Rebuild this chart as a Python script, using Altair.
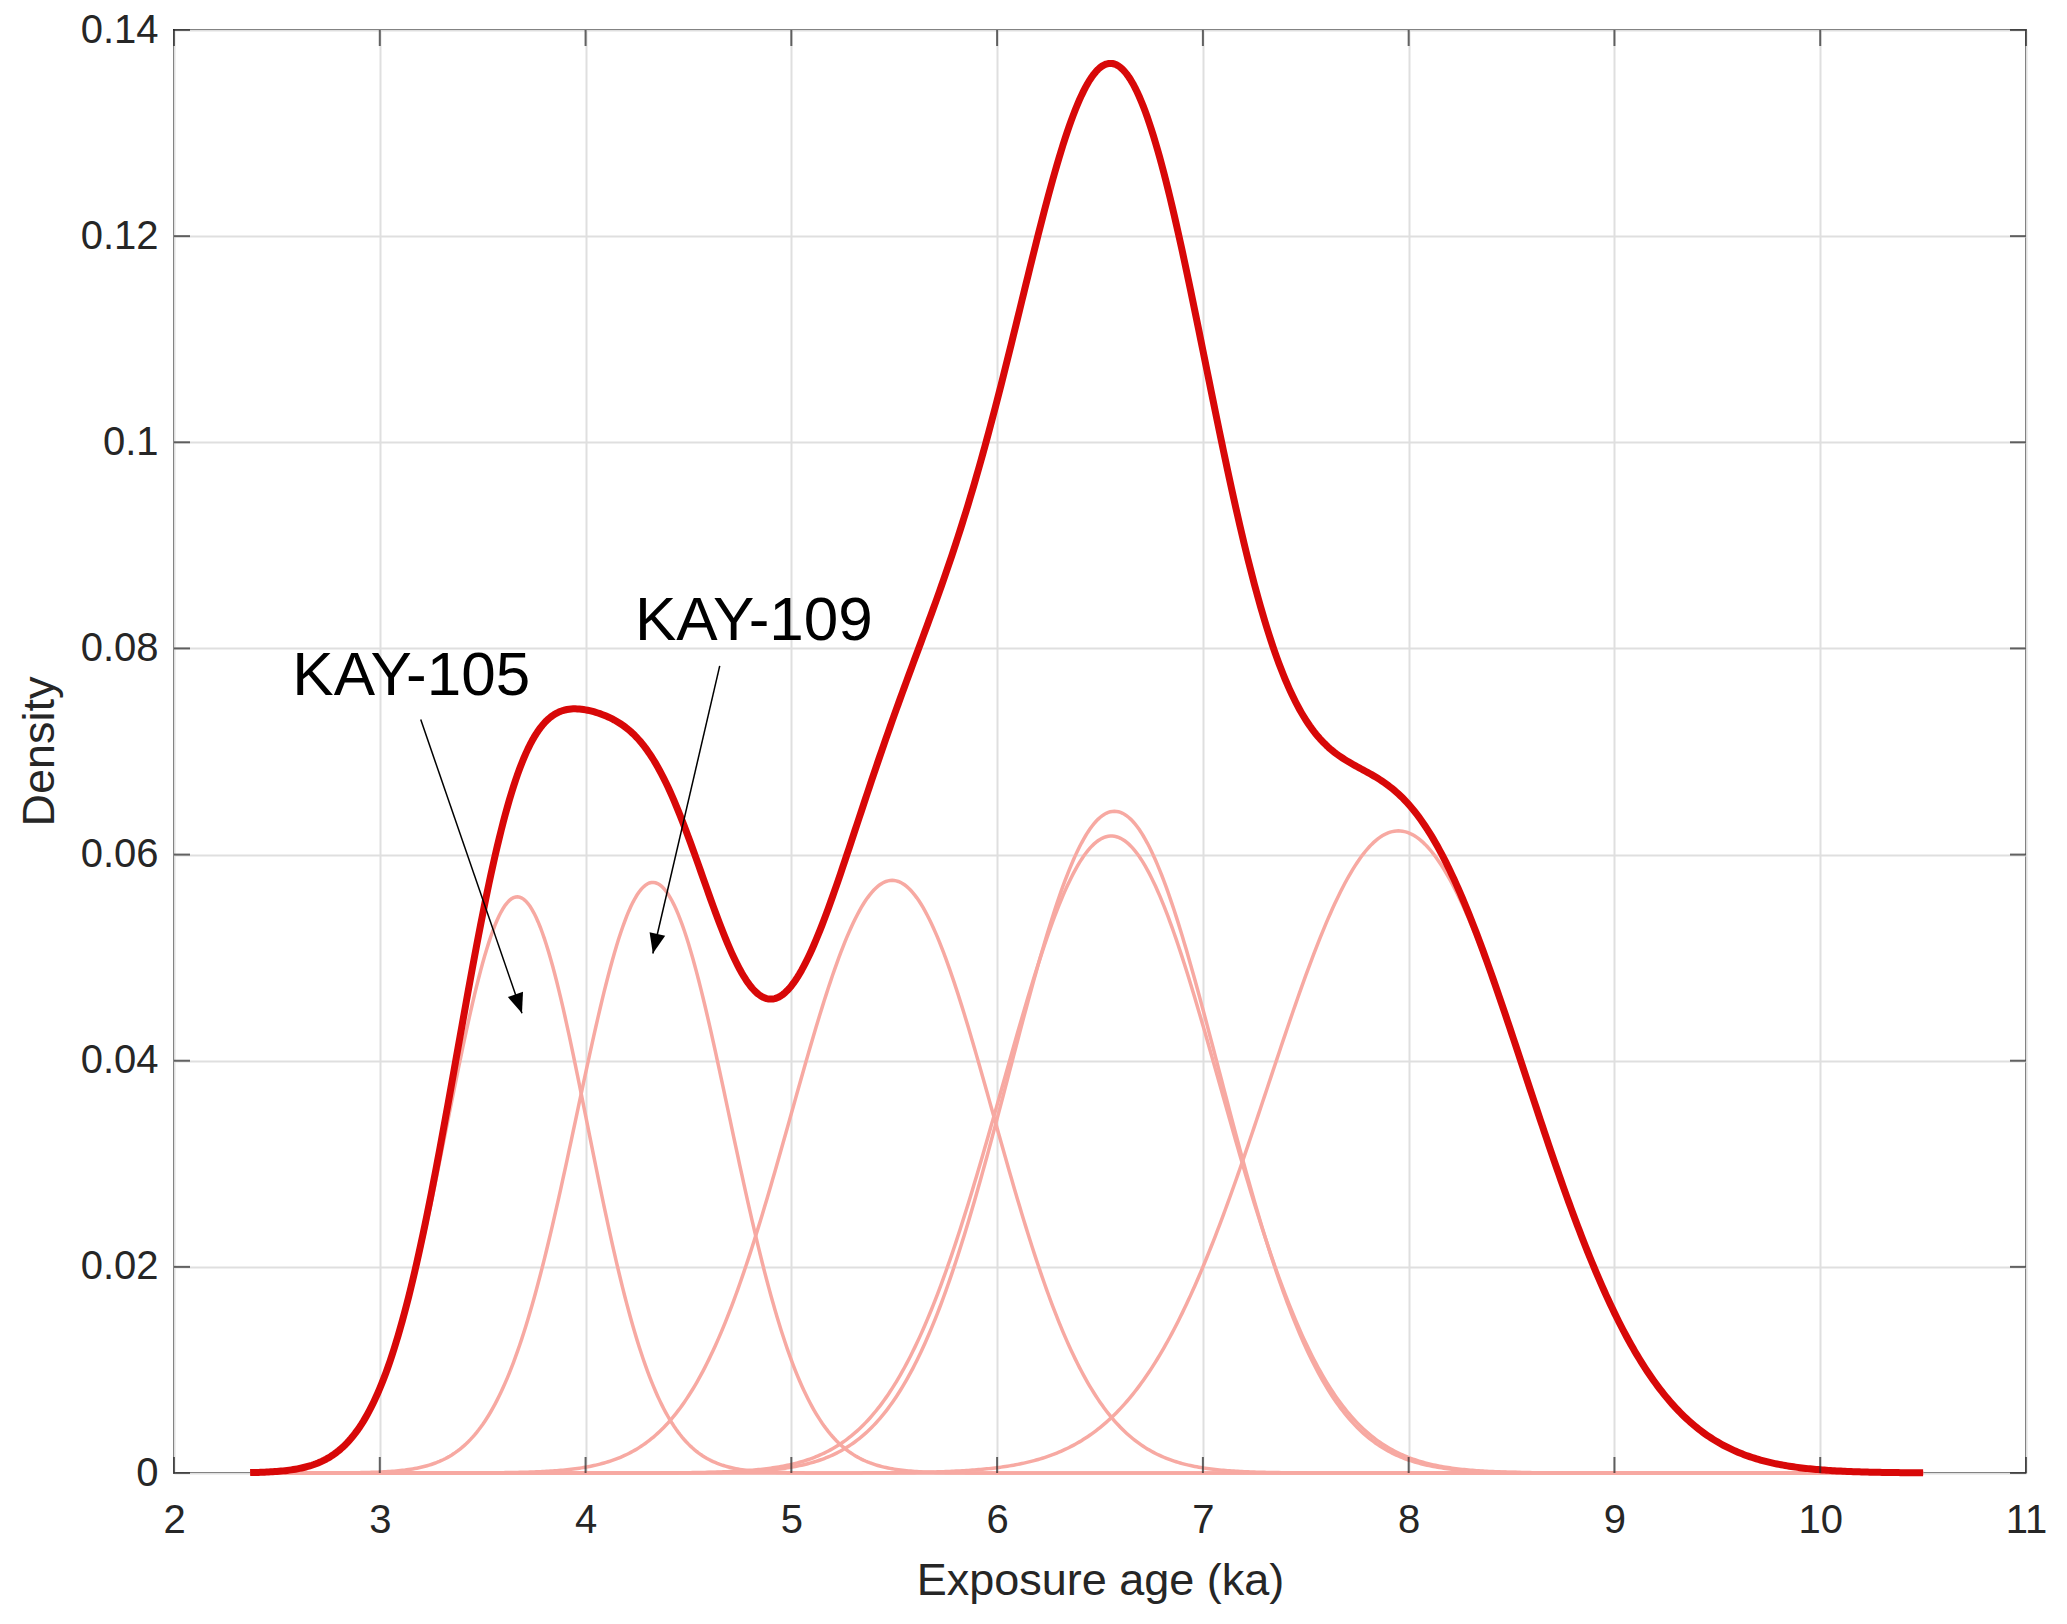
import math
import altair as alt
import numpy as np
import pandas as pd

# ---------------- values ----------------
# individual sample age probability curves (Gaussian): peak age, 1-sigma, peak density
comp_id = [1, 2, 3, 4, 5, 6]
comp_age = [3.668, 4.327, 5.490, 6.570, 6.555, 7.950]
comp_sigma = [0.34, 0.37, 0.49, 0.51, 0.53, 0.63]
comp_peak = [0.0559, 0.0573, 0.0575, 0.0642, 0.0618, 0.0623]
age_start, age_end = 2.37, 10.5          # extent of the plotted curves (ka)

x_ticks = [2, 3, 4, 5, 6, 7, 8, 9, 10, 11]
y_ticks = [0, 0.02, 0.04, 0.06, 0.08, 0.1, 0.12, 0.14]

ann_text = ["KAY-105", "KAY-109"]
ann_x = [2.575, 4.24]
ann_y = [0.0755, 0.0808]
arrow_x0 = [3.199, 4.652]
arrow_y0 = [0.0731, 0.0783]
arrow_x1 = [3.691, 4.327]
arrow_y1 = [0.0446, 0.0504]

# ---------------- styling ----------------
W, H = 1852, 1443
RED = "#d80808"
PINK = "#f7a9a2"
FONT = "Liberation Sans"
TXT = "#262626"

# ---------------- build tables ----------------
ages = np.round(np.arange(age_start, age_end + 1e-9, 0.01), 3)
rows = []
total = np.zeros_like(ages)
for cid, mu, sd, pk in zip(comp_id, comp_age, comp_sigma, comp_peak):
    dens = pk * np.exp(-((ages - mu) ** 2) / (2 * sd ** 2))
    total = total + dens
    rows.append(pd.DataFrame({"age": ages, "density": dens, "comp": cid}))
pink_df = pd.concat(rows, ignore_index=True)
sum_df = pd.DataFrame({"age": ages, "density": total})

px_x = W / (x_ticks[-1] - x_ticks[0])
px_y = H / (y_ticks[-1] - y_ticks[0])
angles = []
for a, b, c, d in zip(arrow_x0, arrow_y0, arrow_x1, arrow_y1):
    dx = (c - a) * px_x
    dy = -(d - b) * px_y
    ang = math.degrees(math.atan2(dx, -dy)) % 360
    angles.append(ang)
arrow_df = pd.DataFrame({"x0": arrow_x0, "y0": arrow_y0, "x1": arrow_x1,
                         "y1": arrow_y1, "angle": angles})
ann_df = pd.DataFrame({"label": ann_text, "x": ann_x, "y": ann_y})
xt_df = pd.DataFrame({"v": x_ticks})
yt_df = pd.DataFrame({"v": y_ticks})

xscale = alt.Scale(domain=[x_ticks[0], x_ticks[-1]], nice=False, zero=False)
yscale = alt.Scale(domain=[y_ticks[0], y_ticks[-1]], nice=False, zero=False)

xaxis = alt.Axis(values=x_ticks, format="~g", labelFontSize=40, labelPadding=27,
                 labelFlush=False, labelOverlap=False,
                 title="Exposure age (ka)", titleFontSize=45, titleY=121,
                 titleBaseline="alphabetic")
yaxis = alt.Axis(values=y_ticks, format="~g", labelFontSize=40, labelPadding=16,
                 labelFlush=False, labelOverlap=False,
                 title="Density", titleFontSize=45, titleX=-121, titleY=721,
                 titleAngle=270, titleAlign="center", titleBaseline="alphabetic")

pinks = alt.Chart(pink_df).mark_line(color=PINK, strokeWidth=3.5).encode(
    x=alt.X("age:Q", scale=xscale, axis=xaxis),
    y=alt.Y("density:Q", scale=yscale, axis=yaxis),
    detail="comp:N",
)

red = alt.Chart(sum_df).mark_line(color=RED, strokeWidth=7, strokeJoin="round").encode(
    x=alt.X("age:Q", scale=xscale),
    y=alt.Y("density:Q", scale=yscale),
)

tick_len = 16
xt_bottom = alt.Chart(xt_df).mark_tick(orient="vertical", size=tick_len, thickness=2,
                                       color=TXT, yOffset=-tick_len / 2).encode(
    x=alt.X("v:Q", scale=xscale), y=alt.datum(y_ticks[0]))
xt_top = alt.Chart(xt_df).mark_tick(orient="vertical", size=tick_len, thickness=2,
                                    color=TXT, yOffset=tick_len / 2).encode(
    x=alt.X("v:Q", scale=xscale), y=alt.datum(y_ticks[-1]))
yt_left = alt.Chart(yt_df).mark_tick(orient="horizontal", size=tick_len, thickness=2,
                                     color=TXT, xOffset=tick_len / 2).encode(
    y=alt.Y("v:Q", scale=yscale), x=alt.datum(x_ticks[0]))
yt_right = alt.Chart(yt_df).mark_tick(orient="horizontal", size=tick_len, thickness=2,
                                      color=TXT, xOffset=-tick_len / 2).encode(
    y=alt.Y("v:Q", scale=yscale), x=alt.datum(x_ticks[-1]))

arrow_lines = alt.Chart(arrow_df).mark_rule(color="black", strokeWidth=1.5).encode(
    x=alt.X("x0:Q", scale=xscale), y=alt.Y("y0:Q", scale=yscale),
    x2="x1:Q", y2="y1:Q")
arrow_heads = alt.Chart(arrow_df).mark_point(
    shape="M0,0L-0.4,1L0.4,1Z", filled=True, size=1600, color="black",
    opacity=1, strokeWidth=0).encode(
    x=alt.X("x1:Q", scale=xscale), y=alt.Y("y1:Q", scale=yscale),
    angle=alt.Angle("angle:Q", scale=None))

labels = alt.Chart(ann_df).mark_text(align="left", baseline="alphabetic", fontSize=62,
                                     font=FONT, color="black").encode(
    x=alt.X("x:Q", scale=xscale), y=alt.Y("y:Q", scale=yscale), text="label:N")

chart = alt.layer(
    pinks, red, xt_bottom, xt_top, yt_left, yt_right, arrow_lines, arrow_heads, labels
).properties(
    width=W, height=H,
    padding={"left": 166, "top": 22, "right": 20, "bottom": 135},
    autosize=alt.AutoSizeParams(type="none"),
    background="white",
).configure_view(
    stroke=TXT, strokeWidth=2,
).configure_axis(
    labelFont=FONT, titleFont=FONT, labelColor=TXT, titleColor=TXT,
    titleFontWeight="normal", domain=False, ticks=False, tickSize=0,
    grid=True, gridColor="#dfdfdf", gridWidth=2,
)

chart.save("out.html", embed_options={"renderer": "svg", "actions": False})
